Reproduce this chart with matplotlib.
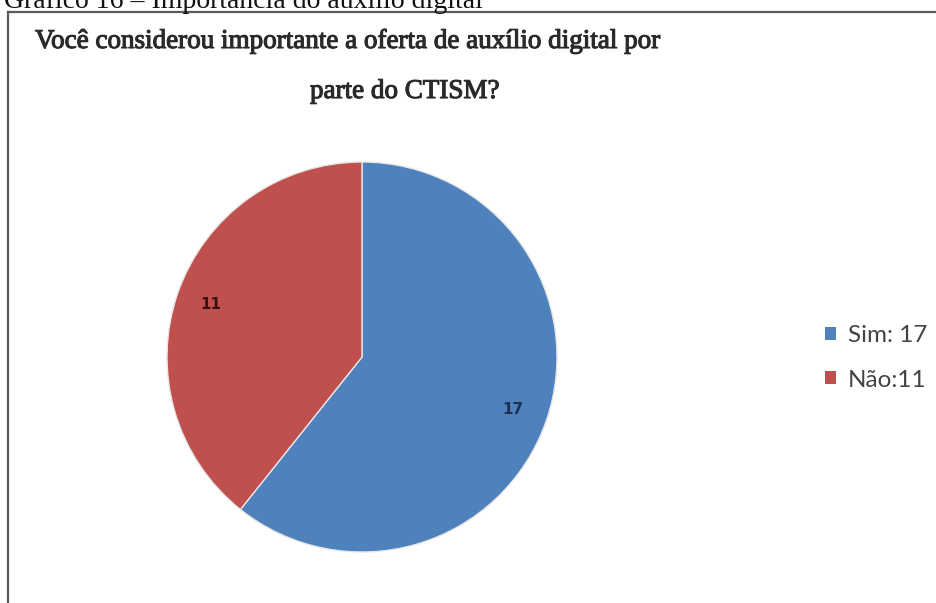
import matplotlib.pyplot as plt
import matplotlib.patheffects as pe
from matplotlib.lines import Line2D
from matplotlib.patches import Patch

# data
labels = ["Sim: 17", "Não:11"]
values = [17, 11]
colors = ["#4f81bd", "#c0504d"]
label_colors = ["#1d2f52", "#3a1212"]

title_lines = ["Você considerou importante a oferta de auxílio digital por",
               "parte do CTISM?"]
caption = "Gráfico 16 – Importância do auxílio digital"

W, H = 936, 603
fig = plt.figure(figsize=(W / 100, H / 100), dpi=100)

def px(x, y):
    # pixel position (from top-left) -> figure fraction
    return x / W, 1 - y / H

# caption of the document, cut off at the top edge like in the scan
fig.text(*px(4, 8), caption, ha="left", va="baseline",
         family="Liberation Serif", fontsize=20, color="#111111")

# frame of the pasted chart image (only left and top edges are visible)
fig.add_artist(Line2D([8 / W, 8 / W], [0, 1 - 12 / H], color="#5a5a5a", lw=1.6))
fig.add_artist(Line2D([8 / W, 1], [1 - 12 / H, 1 - 12 / H], color="#5a5a5a", lw=1.6))

heavy = [pe.withStroke(linewidth=0.8, foreground="#2a2a2a")]
fig.text(*px(35, 48), title_lines[0], ha="left", va="baseline",
         family="Liberation Serif", fontsize=19.5, color="#2a2a2a",
         path_effects=heavy)
fig.text(*px(310, 98), title_lines[1], ha="left", va="baseline",
         family="Liberation Serif", fontsize=19.5, color="#2a2a2a",
         path_effects=heavy)

# pie centred at (362, 357) px with radius 195 px
cx, cy, r = 362, 357, 195
ax = fig.add_axes([(cx - r) / W, (H - cy - r) / H, 2 * r / W, 2 * r / H])
wedges, texts, autotexts = ax.pie(
    values, colors=colors, startangle=90, counterclock=False,
    autopct=lambda p: f"{round(p * sum(values) / 100):d}", pctdistance=0.82,
    wedgeprops=dict(edgecolor="#e6e6e6", linewidth=1.0),
    textprops=dict(fontsize=11, weight="bold", family="DejaVu Sans"))
for t, c in zip(autotexts, label_colors):
    t.set_color(c)
ax.set_xlim(-1, 1)
ax.set_ylim(-1, 1)
ax.axis("off")

handles = [Patch(facecolor=c, edgecolor="none") for c in colors]
fig.legend(handles, labels, loc="center left",
           bbox_to_anchor=px(825, 358), frameon=False,
           handlelength=0.45, handleheight=0.45, handletextpad=0.5,
           labelspacing=0.95, borderaxespad=0, borderpad=0,
           prop=dict(family="Lato", size=17.5), labelcolor="#444444")

fig.savefig("out.png", dpi=100, facecolor="white")
